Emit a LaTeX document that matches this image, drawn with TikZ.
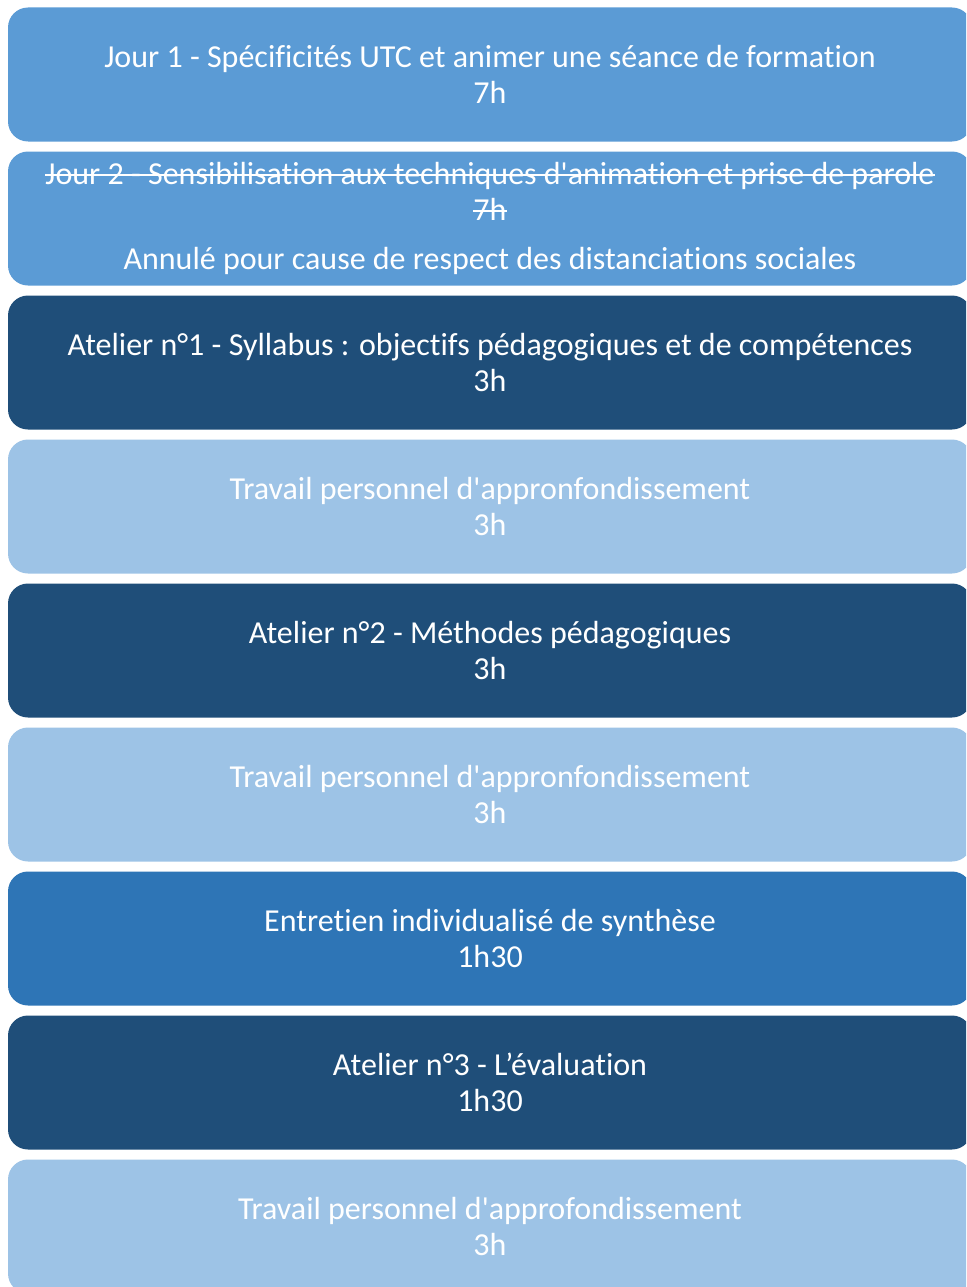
\documentclass[tikz,border=0pt]{standalone}
\usepackage{fontspec}
\setmainfont{Carlito}[Ligatures={TeXOff,NoCommon}]
\newcommand{\barre}[1]{\setbox0\hbox{#1}\rlap{\rule[0.28em]{\wd0}{0.06em}}\box0}
\definecolor{jourblue}{HTML}{5B9BD5}
\definecolor{atelierblue}{HTML}{1F4E79}
\definecolor{travailblue}{HTML}{9DC3E6}
\definecolor{entretienblue}{HTML}{2E75B6}
\tikzstyle{block} = [rectangle, fill=jourblue, text=white, align=center,
    minimum width=964pt, minimum height=134pt, inner sep=0pt, rounded corners=20pt,
    font=\fontsize{32}{36}\selectfont]
\tikzstyle{atelier} = [block, fill=atelierblue]
\tikzstyle{travail} = [block, fill=travailblue]
\tikzstyle{entretien} = [block, fill=entretienblue]

\begin{document}
\begin{tikzpicture}[node distance=144pt]
		\clip (0pt,0pt) rectangle (966pt,-1287pt);
		\node [block] (jour1) at (490pt,-74.5pt) {Jour 1 - Spécificités UTC et animer une séance de formation\\7h};
		\node [block, below of=jour1] (jour2) {\barre{Jour 2 - Sensibilisation aux techniques d'animation et prise de parole}\\\barre{7h}\\[13pt]Annulé pour cause de respect des distanciations sociales};
		\node [atelier, below of=jour2] (atelier1) {Atelier n°1 - Syllabus : objectifs pédagogiques et de compétences\\3h};
		\node [travail, below of=atelier1] (travail1) {Travail personnel d'appronfondissement\\3h};
		\node [atelier, below of=travail1] (atelier2) {Atelier n°2 - Méthodes pédagogiques\\3h};
		\node [travail, below of=atelier2] (travail2) {Travail personnel d'appronfondissement\\3h};
		\node [entretien, below of=travail2] (entretien) {Entretien individualisé de synthèse\\1h30};
		\node [atelier, below of=entretien] (atelier3) {Atelier n°3 - L’évaluation\\1h30};
		\node [travail, below of=atelier3] (travail3) {Travail personnel d'approfondissement\\3h};
	\end{tikzpicture}
\end{document}
